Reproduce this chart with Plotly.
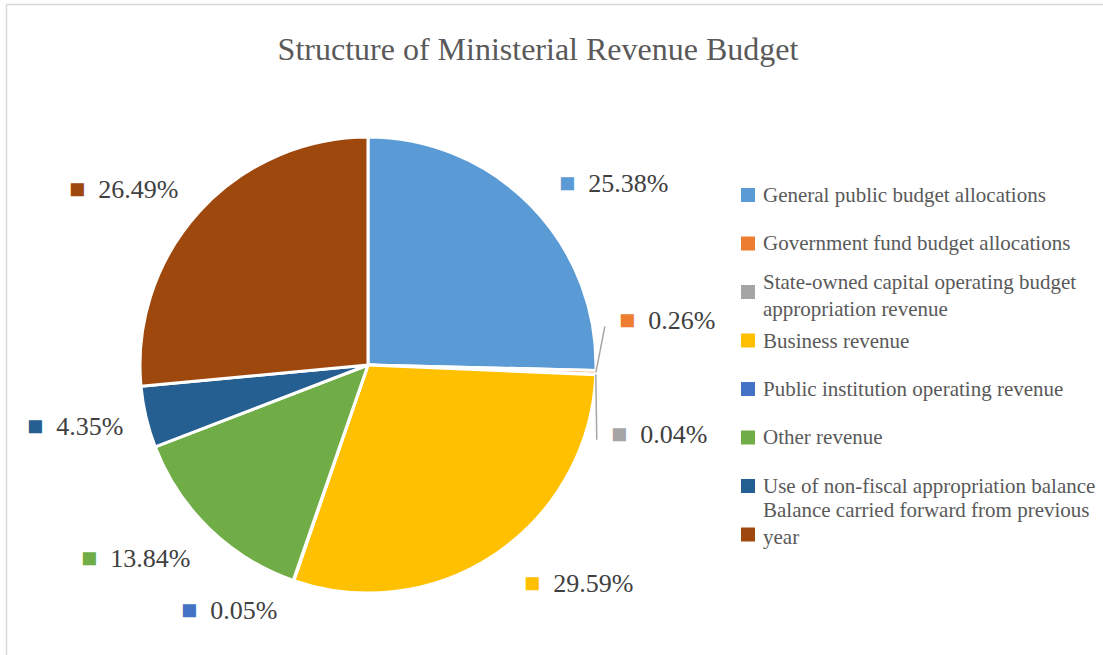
import math
import plotly.graph_objects as go

# Revenue budget structure (% of total)
categories = [
    "General public budget allocations",
    "Government fund budget allocations",
    "State-owned capital operating budget<br>appropriation revenue",
    "Business revenue",
    "Public institution operating revenue",
    "Other revenue",
    "Use of non-fiscal appropriation balance",
    "Balance carried forward from previous<br>year",
]
shares = [25.38, 0.26, 0.04, 29.59, 0.05, 13.84, 4.35, 26.49]
colors = ["#5B9BD5", "#ED7D31", "#A5A5A5", "#FFC000",
          "#4472C4", "#70AD47", "#255E91", "#9E480E"]

W, H = 1103, 655
CX, CY, R = 368, 365, 228          # pie centre and radius, px
LABEL_R = 262                      # radius where data labels sit, px
SERIF = "Liberation Serif"

# per-label pixel nudges and leader-line flags (small slices are moved apart)
nudges = [(2, 1), (-13, -53), (-21, 58), (6, 2), (-3, -3), (6, 5), (12, 1), (6, 0)]
leaders = [False, True, True, False, False, False, False, False]


def px_x(x):
    return x / W


def px_y(y):
    return 1 - y / H


fig = go.Figure(go.Pie(
    labels=[c.replace("<br>", " ") for c in categories],
    values=shares,
    sort=False,
    direction="clockwise",
    rotation=0,
    marker=dict(colors=colors, line=dict(color="white", width=3)),
    textinfo="none",
    hoverinfo="label+percent",
    showlegend=False,
    domain=dict(x=[px_x(CX - R), px_x(CX + R)], y=[px_y(CY + R), px_y(CY - R)]),
))

annotations = []
shapes = []

# data labels around the pie, placed along each slice's mid angle
total = sum(shares)
cum = 0.0
for i, (v, c) in enumerate(zip(shares, colors)):
    mid = (cum + v / 2) / total * 2 * math.pi
    cum += v
    s, co = math.sin(mid), math.cos(mid)
    lx = CX + LABEL_R * s + nudges[i][0]
    ly = CY - LABEL_R * co + nudges[i][1]
    text = f"<span style='color:{c};font-size:27px'>■</span>&nbsp;&nbsp;{v:.2f}%"
    annotations.append(dict(
        x=px_x(lx), y=px_y(ly), xref="paper", yref="paper",
        xanchor="left" if s >= 0 else "right", yanchor="middle",
        text=text, showarrow=False,
        font=dict(family=SERIF, size=26, color="#404040"),
    ))
    if leaders[i]:
        ex, ey = CX + R * s, CY - R * co
        shapes.append(dict(
            type="line", xref="paper", yref="paper",
            x0=px_x(ex), y0=px_y(ey), x1=px_x(lx - 12), y1=px_y(ly + 6),
            line=dict(color="#A6A6A6", width=1.5),
        ))

# legend on the right
LEG_X, LEG_Y0, LEG_DY, SQ = 741, 195, 48.5, 14
text_shift = [0, 0, -3, 0, 0, 0, 0, 11]
for i, (name, c) in enumerate(zip(categories, colors)):
    yc = LEG_Y0 + i * LEG_DY
    shapes.append(dict(
        type="rect", xref="paper", yref="paper",
        x0=px_x(LEG_X), x1=px_x(LEG_X + SQ),
        y0=px_y(yc - SQ / 2), y1=px_y(yc + SQ / 2),
        fillcolor=c, line=dict(width=0),
    ))
    annotations.append(dict(
        x=px_x(LEG_X + SQ + 6), y=px_y(yc), xref="paper", yref="paper",
        xanchor="left", yanchor="middle", align="left",
        text=name, showarrow=False, yshift=text_shift[i],
        font=dict(family=SERIF, size=21, color="#595959"),
    ))

# chart-area border (top and left edges)
shapes.append(dict(type="line", xref="paper", yref="paper",
                   x0=px_x(6.5), y0=px_y(4.5), x1=1.0, y1=px_y(4.5),
                   line=dict(color="#D9D9D9", width=1.5)))
shapes.append(dict(type="line", xref="paper", yref="paper",
                   x0=px_x(6.5), y0=px_y(4.5), x1=px_x(6.5), y1=0.0,
                   line=dict(color="#D9D9D9", width=1.5)))

fig.update_layout(
    width=W, height=H,
    margin=dict(l=0, r=0, t=0, b=0),
    paper_bgcolor="white",
    title=dict(text="Structure of Ministerial Revenue Budget",
               x=px_x(538), y=px_y(49), xanchor="center", yanchor="middle",
               font=dict(family=SERIF, size=32, color="#595959")),
    annotations=annotations,
    shapes=shapes,
)

fig.write_html("out.html")
